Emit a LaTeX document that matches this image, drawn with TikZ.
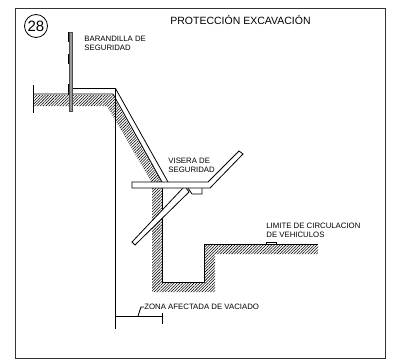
\documentclass[tikz,border=0pt]{standalone}
\usepackage{fontspec}
\setmainfont{Liberation Sans}
\usetikzlibrary{patterns.meta}
\begin{document}
\begin{tikzpicture}
  [x=1pt,y=-1pt,line width=.8pt,
   every node/.style={inner sep=0pt,font=\fontsize{7.8}{9}\selectfont,align=left},
   hatched/.style={pattern={Lines[angle=45,distance=2pt,line width=.55pt]},draw=none},
   plank/.style={draw,fill=white},
   post/.style={draw=black!70,line width=.6pt,fill=black!40}]
  \useasboundingbox (0,0) rectangle (394,364);
  \draw[black!80,line width=1pt] (15,8) rectangle (385.5,358);

  \node[circle,draw,minimum size=23pt,font=\fontsize{15}{15}\selectfont] (n28) at (36,26) {28};
  \node[anchor=west,font=\fontsize{10.5}{11}\selectfont] (title) at (170,20) {PROTECCIÓN EXCAVACIÓN};
  \node[anchor=west] (barandilla) at (84,43.5) {BARANDILLA DE\\SEGURIDAD};
  \node[anchor=west] (visera) at (168,165.5) {VISERA DE\\SEGURIDAD};
  \node[anchor=west] (limite) at (266,230.5) {LIMITE DE CIRCULACION\\DE VEHICULOS};
  \node[anchor=west] (zona) at (144,307) {ZONA AFECTADA DE VACIADO};

  % terreno
  \fill[hatched] (33,95) -- (113,95) -- (162,183) -- (152,183) -- (107,106) -- (33,106) -- cycle;
  \fill[hatched] (152,187) -- (152,292) -- (215,292) -- (215,254) -- (318,254)
    -- (318,244) -- (204,244) -- (204,282) -- (162,282) -- (162,187) -- cycle;
  \draw (162,188) -- (162,282) -- (204,282) -- (204,244) -- (318,244);
  \draw (33,85) -- (33,113);
  \draw (33,94) -- (113,94) -- (162,182);
  \draw (71,88.5) -- (115.5,88.5) -- (168,182);
  \draw[plank] (266,244) -- (266,242) -- (276,242) -- (276,244);

  % barandilla
  \draw[line width=.6pt] (68,32) rectangle (70,41);
  \draw[line width=.6pt] (68,54) rectangle (70,63);
  \draw[line width=.6pt] (68,84) rectangle (70,94);
  \draw[post] (69.5,32) rectangle (72,111);

  % visera
  \draw[plank] (188,188) -- (192,194) -- (202,194) -- (202,188);
  \draw[plank] (183,188) -- (132,242) -- (135,245) -- (189,192) -- (186,188);
  \draw[plank] (132,182) -- (208,182) -- (239,151) -- (243,154) -- (210,188) -- (132,188) -- cycle;

  % cotas
  \coordinate (dimL) at (115.5,316);
  \coordinate (dimR) at (162,316);
  \draw (115.5,88.5) -- (115.5,329);
  \draw (dimL) -- (dimR);
  \draw (162,313) -- (162,324);
  \draw (138,316) -- (141,307) -- (zona.west);
\end{tikzpicture}
\end{document}
